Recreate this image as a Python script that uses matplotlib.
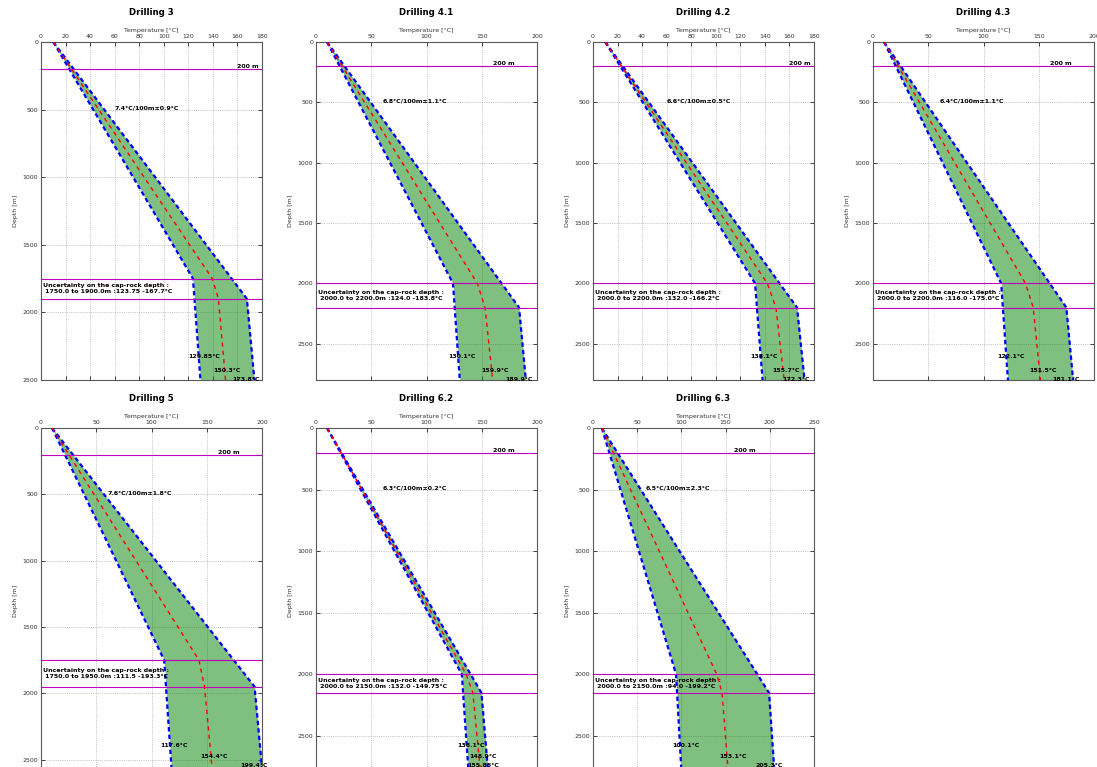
import numpy as np
import matplotlib
matplotlib.use("Agg")
import matplotlib.pyplot as plt
from matplotlib.ticker import MultipleLocator

# one entry per drilling
names = ["Drilling 3", "Drilling 4.1", "Drilling 4.2", "Drilling 4.3",
         "Drilling 5", "Drilling 6.2", "Drilling 6.3"]
gradient = [7.4, 6.8, 6.6, 6.4, 7.6, 6.3, 6.5]      # degC / 100 m
gradient_err = [0.9, 1.1, 0.5, 1.1, 1.8, 0.2, 2.3]
cap_top = [1750.0, 2000.0, 2000.0, 2000.0, 1750.0, 2000.0, 2000.0]
cap_base = [1900.0, 2200.0, 2200.0, 2200.0, 1950.0, 2150.0, 2150.0]
depth_max = [2500, 2800, 2800, 2800, 2600, 2800, 2800]
temp_max_axis = [180, 200, 180, 200, 200, 200, 250]

# temperatures at depths [0, cap_top, cap_base, depth_max]
t_min = [[10, 123.75, 125.0, 129.85],
         [10, 124.0, 125.5, 130.1],
         [10, 132.0, 133.5, 138.1],
         [10, 116.0, 117.5, 122.1],
         [10, 111.5, 113.1, 118.4],
         [10, 132.0, 133.1, 138.1],
         [10, 94.0, 95.1, 100.1]]
t_mean = [[10, 139.5, 144.5, 150.3],
          [10, 146.0, 153.0, 159.9],
          [10, 142.0, 149.0, 155.7],
          [10, 138.0, 145.0, 151.5],
          [10, 143.0, 148.0, 155.2],
          [10, 136.0, 142.0, 148.9],
          [10, 140.0, 146.0, 153.1]]
t_max = [[10, 155.3, 167.7, 173.8],
         [10, 168.0, 183.8, 189.9],
         [10, 152.0, 166.2, 172.3],
         [10, 160.0, 175.0, 181.1],
         [10, 174.5, 193.3, 200.4],
         [10, 140.0, 149.75, 155.85],
         [10, 186.0, 199.2, 205.3]]

# values written at the bottom of each panel
bottom_min = [129.85, 130.1, 138.1, 122.1, 117.6, 138.1, 100.1]
bottom_mean = [150.3, 159.9, 155.7, 151.5, 154.4, 148.9, 153.1]
bottom_max = [173.8, 189.9, 172.3, 181.1, 199.4, 155.85, 205.3]

plt.rcParams['font.family'] = 'DejaVu Sans'
plt.rcParams['font.size'] = 4.5

W, H = 1097.0, 767.0
fig = plt.figure(figsize=(W / 100, H / 100), dpi=100)
col_px = [41, 316, 593, 873]
row_px = [(42, 380), (428, 773)]
# label offsets above axes bottom (points), per row
label_dy = [[17, 7, 0.5], [20, 12, 5.5]]

for i, name in enumerate(names):
    r, c = divmod(i, 4)
    top, bot = row_px[r]
    ax = fig.add_axes([col_px[c] / W, 1 - bot / H, 221 / W, (bot - top) / H])

    depth = [0, cap_top[i], cap_base[i], depth_max[i]]
    ax.fill_betweenx(depth, t_min[i], t_max[i], color='g', alpha=0.5, lw=0, zorder=2)
    ax.plot(t_min[i], depth, color='b', ls=(0, (2, 1.4)), lw=1.6, zorder=3)
    ax.plot(t_max[i], depth, color='b', ls=(0, (2, 1.4)), lw=1.6, zorder=3)
    ax.plot(t_mean[i], depth, color='r', ls=(0, (3, 3)), lw=1.0, zorder=4)
    for d in [200, cap_top[i], cap_base[i]]:
        ax.axhline(d, color='m', lw=0.8, zorder=3)

    ax.set_xlim(0, temp_max_axis[i])
    ax.set_ylim(depth_max[i], 0)
    ax.xaxis.set_major_locator(MultipleLocator(20 if temp_max_axis[i] == 180 else 50))
    ax.yaxis.set_major_locator(MultipleLocator(500))
    ax.xaxis.tick_top()
    ax.xaxis.set_label_position('top')
    ax.set_xlabel('Temperature [°C]', labelpad=1.5, color='0.2')
    ax.set_ylabel('Depth [m]', labelpad=3, color='0.2')
    ax.set_title(name, fontsize=6.2, fontweight='bold', pad=9.5)
    ax.grid(True, ls=':', color='0.6', lw=0.5, zorder=0)
    ax.tick_params(direction='in', top=True, bottom=True, left=True, right=True,
                   length=3, width=0.5, labelsize=4.5, pad=2, labelcolor='0.2')
    for s in ax.spines.values():
        s.set_color('0.35')
        s.set_linewidth(0.8)

    ax.text(160, 200, '200 m', fontweight='bold', ha='left', va='bottom')
    ax.text(60, 500, f"{gradient[i]}°C/100m±{gradient_err[i]}°C",
            fontweight='bold', ha='left', va='baseline')
    ax.text(0.01, (cap_top[i] + cap_base[i]) / 2,
            "Uncertainty on the cap-rock depth :\n"
            f" {cap_top[i]:.1f} to {cap_base[i]:.1f}m :{t_min[i][1]} -{t_max[i][2]}°C",
            transform=ax.get_yaxis_transform(), fontweight='bold',
            ha='left', va='center', linespacing=1.3)

    dy = label_dy[r]
    for v, off, dx in [(bottom_min[i], dy[0], 0), (bottom_mean[i], dy[1], 0),
                       (bottom_max[i], dy[2], -7)]:
        ax.annotate(f"{v}°C", xy=(v - 10, 0), xycoords=('data', 'axes fraction'),
                    xytext=(dx, off), textcoords='offset points',
                    fontweight='bold', ha='left', va='center',
                    annotation_clip=False, zorder=6)

fig.savefig('out.png', dpi=100)
